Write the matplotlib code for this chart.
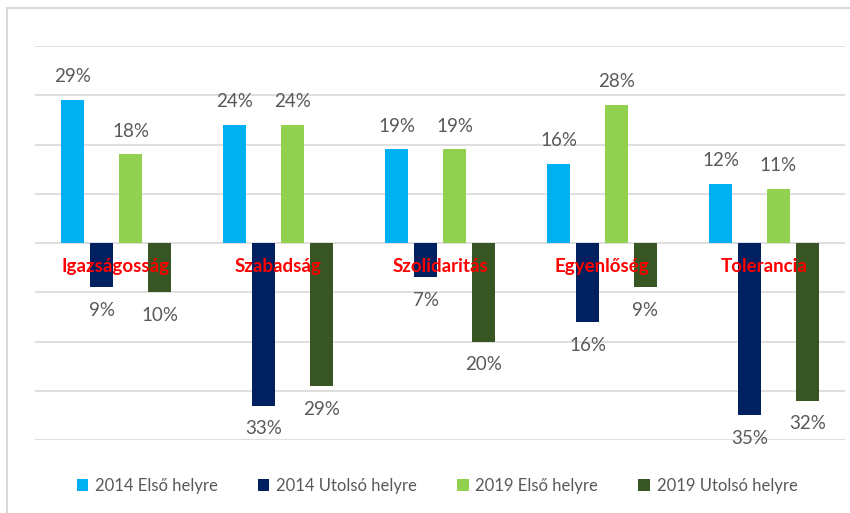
import numpy as np
import matplotlib
matplotlib.use("Agg")
import matplotlib.pyplot as plt
from matplotlib.patches import Patch
from matplotlib.lines import Line2D

plt.rcParams['font.family'] = ['Lato', 'DejaVu Sans']

categories = ['Igazságosság', 'Szabadság', 'Szolidaritás', 'Egyenlőség', 'Tolerancia']
series_names = ['2014 Első helyre', '2014 Utolsó helyre', '2019 Első helyre', '2019 Utolsó helyre']
first_2014 = [29, 24, 19, 16, 12]
last_2014 = [-9, -33, -7, -16, -35]
first_2019 = [18, 24, 19, 28, 11]
last_2019 = [-10, -29, -20, -9, -32]
colors = ['#00B0F0', '#002060', '#92D050', '#375623']

series = [first_2014, last_2014, first_2019, last_2019]

fig = plt.figure(figsize=(8.5, 5.13), dpi=100)
ax = fig.add_axes([35 / 850, 1 - 440 / 513, 810 / 850, 394 / 513])

x = np.arange(len(categories))
step = 0.179
width = 0.142
offsets = (np.arange(4) - 1.5) * step

for vals, off, col in zip(series, offsets, colors):
    v = np.array(vals) / 100.0
    ax.bar(x + off, v, width=width, color=col, zorder=3)
    for xi, vi in zip(x + off, v):
        if vi >= 0:
            ax.text(xi, vi + 0.03, f"{abs(vi) * 100:.0f}%", ha='center', va='bottom',
                    fontsize=13.5, color='#595959')
        else:
            ax.text(xi, vi - 0.03, f"{abs(vi) * 100:.0f}%", ha='center', va='top',
                    fontsize=13.5, color='#595959')

for xi, cat in zip(x, categories):
    ax.text(xi, -0.047, cat, ha='center', va='center', fontsize=13.5,
            fontweight='bold', color='#FF0000', zorder=5)

ax.set_xlim(-0.5, len(categories) - 0.5)
ax.set_ylim(-0.4, 0.4)
ax.set_yticks(np.arange(-0.4, 0.41, 0.1))
ax.yaxis.grid(True, color='#D9D9D9', linewidth=1.2, zorder=0)
ax.set_xticks([])
ax.tick_params(axis='y', left=False, labelleft=False)
for s in ax.spines.values():
    s.set_visible(False)

# legend
handles = [Patch(facecolor=c, edgecolor='none') for c in colors]
fig.legend(handles, series_names, loc='center', bbox_to_anchor=(437 / 850, 1 - 486 / 513),
           ncol=4, frameon=False, fontsize=12, labelcolor='#595959',
           handlelength=0.7, handleheight=0.7, handletextpad=0.4, columnspacing=2.4)

# chart border (top and left)
fig.add_artist(Line2D([7 / 850, 1.0], [1 - 8 / 513, 1 - 8 / 513], color='#D9D9D9', linewidth=1.5))
fig.add_artist(Line2D([7 / 850, 7 / 850], [0, 1 - 8 / 513], color='#D9D9D9', linewidth=1.5))

fig.savefig('out.png', dpi=100)
